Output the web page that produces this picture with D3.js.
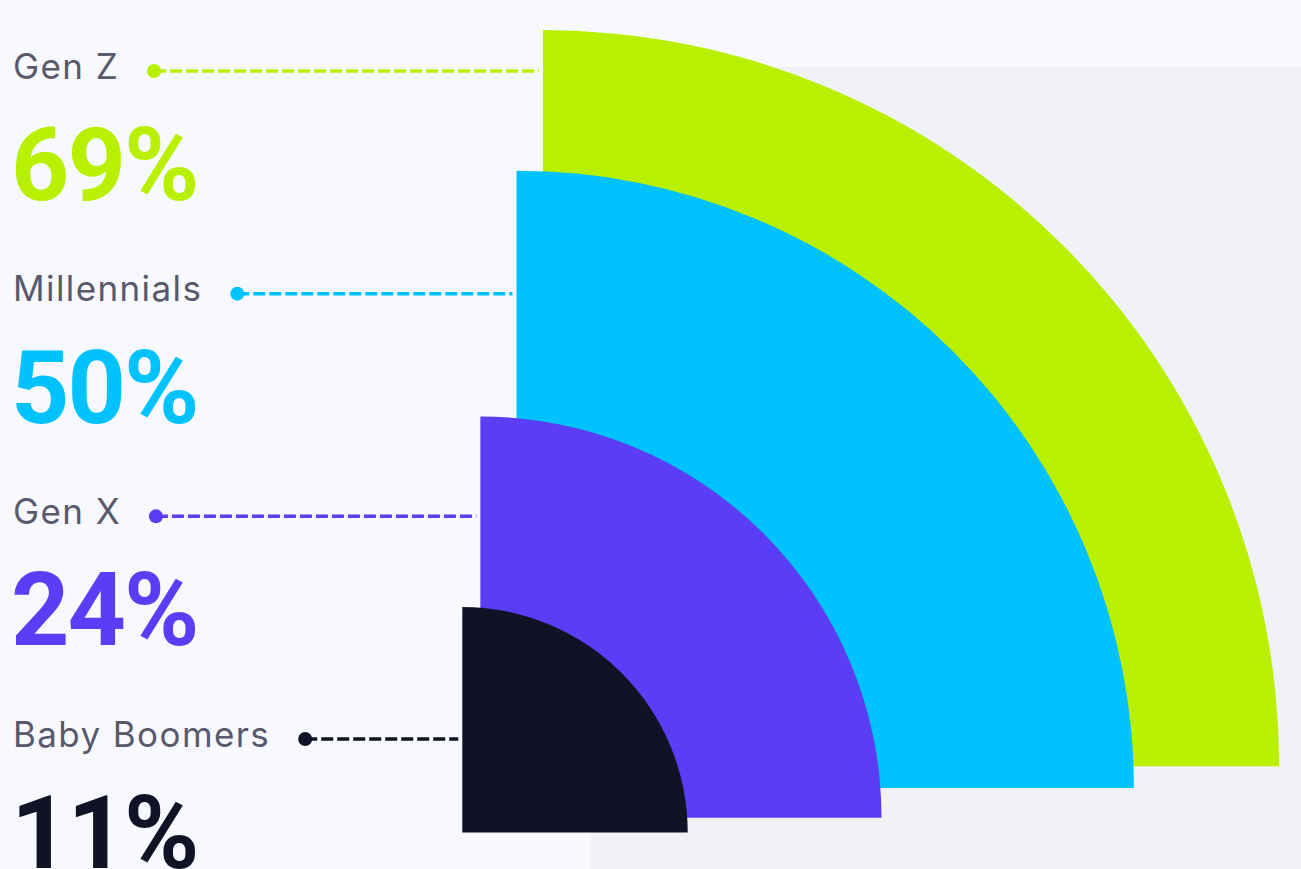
<!DOCTYPE html>
<html>
<head>
<meta charset="utf-8">
<script src="https://cdn.jsdelivr.net/npm/d3@7"></script>
<style>
  html, body { margin: 0; padding: 0; background: #f8f9fe; overflow: hidden; }
  svg { display: block; }
</style>
</head>
<body>
<svg id="chart" width="1301" height="869"></svg>
<script>
// Share of each generation
const categories = ["Gen Z", "Millennials", "Gen X", "Baby Boomers"];
const shares = [69, 50, 24, 11];
const colors = ["#b8f000", "#00c2ff", "#5b3df5", "#101325"];

const W = 1301, H = 869;
const svg = d3.select("#chart");

// Backdrop panel behind the fans
svg.append("rect")
  .attr("x", 591).attr("y", 67)
  .attr("width", W - 591).attr("height", H - 67)
  .attr("fill", "#f1f2f7");

// Quarter-circle radius grows with the share; each fan's corner shifts up/right with it
const rScale = d3.scaleRadial().domain([5, 100]).range([0, 897]);
const cornerX = d3.scaleLinear().domain([0, 100]).range([447, 586]);
const cornerY = d3.scaleLinear().domain([0, 100]).range([845, 731]);
const rowY = d3.scalePoint().domain(categories).range([71, 739]);

const data = categories.map((c, i) => ({
  name: c, value: shares[i], color: colors[i]
}));

const arc = d3.arc()
  .innerRadius(0)
  .startAngle(0)
  .endAngle(Math.PI / 2);

// Largest first so the smaller fans sit on top
svg.append("g").selectAll("path")
  .data(data.slice().sort((a, b) => b.value - a.value))
  .join("path")
  .attr("transform", d => `translate(${cornerX(d.value)},${cornerY(d.value)})`)
  .attr("d", d => arc({ outerRadius: rScale(d.value) }))
  .attr("fill", d => d.color);

// Labels with leader lines
const fmt = d => `${d}%`;
const rows = svg.append("g").selectAll("g")
  .data(data)
  .join("g");

rows.append("text")
  .attr("class", "name")
  .attr("x", 13)
  .attr("y", d => rowY(d.name) + 7.5)
  .attr("font-family", "Inter, 'Noto Sans', sans-serif")
  .attr("font-size", 35)
  .attr("font-weight", 400)
  .attr("letter-spacing", 1.4)
  .attr("fill", "#585a6c")
  .text(d => d.name);

rows.append("text")
  .attr("x", 11)
  .attr("y", d => rowY(d.name) + 129)
  .attr("font-family", "Roboto, 'Noto Sans', sans-serif")
  .attr("font-size", 102)
  .attr("font-weight", 700)
  .attr("letter-spacing", -2)
  .attr("fill", d => d.color)
  .text(d => fmt(d.value));

rows.each(function(d) {
  const g = d3.select(this);
  const tw = g.select("text.name").node().getComputedTextLength();
  const dotX = 13 + tw + 35;
  const y = rowY(d.name);
  g.append("line")
    .attr("x1", dotX).attr("x2", cornerX(d.value) - 4)
    .attr("y1", y).attr("y2", y)
    .attr("stroke", d.color)
    .attr("stroke-width", 3.5)
    .attr("stroke-dasharray", "12 4");
  g.append("circle")
    .attr("cx", dotX).attr("cy", y).attr("r", 7)
    .attr("fill", d.color);
});
</script>
</body>
</html>
